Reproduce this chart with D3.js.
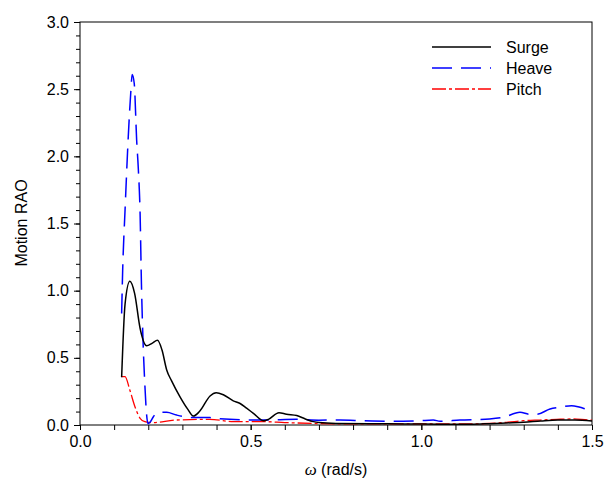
<!DOCTYPE html>
<html>
<head>
<meta charset="utf-8">
<script src="https://cdn.jsdelivr.net/npm/d3@7"></script>
<style>
  body { margin: 0; background: #fff; }
  svg { font-family: Arial, "Liberation Sans", sans-serif; }
</style>
</head>
<body>
<div id="chart"></div>
<script>
// values
var surgeW = [0.122, 0.132, 0.146, 0.160, 0.176, 0.195, 0.212, 0.227, 0.240, 0.254, 0.268, 0.293, 0.315, 0.332, 0.350, 0.381, 0.399, 0.420, 0.449, 0.469, 0.488, 0.508, 0.537, 0.552, 0.583, 0.605, 0.635, 0.660, 0.684, 0.700, 0.750, 0.850, 0.950, 1.050, 1.150, 1.200, 1.250, 1.300, 1.350, 1.400, 1.450, 1.500];
var surgeV = [0.355, 0.90, 1.07, 0.98, 0.72, 0.59, 0.61, 0.63, 0.56, 0.41, 0.33, 0.21, 0.12, 0.067, 0.10, 0.216, 0.24, 0.225, 0.18, 0.16, 0.125, 0.087, 0.032, 0.042, 0.092, 0.08, 0.07, 0.045, 0.025, 0.018, 0.012, 0.010, 0.008, 0.006, 0.006, 0.010, 0.015, 0.020, 0.030, 0.037, 0.037, 0.030];

var heaveW = [0.122, 0.125, 0.132, 0.1415, 0.1486, 0.153, 0.159, 0.166, 0.171, 0.176, 0.180, 0.185, 0.190, 0.195, 0.199, 0.205, 0.215, 0.234, 0.254, 0.283, 0.332, 0.381, 0.40, 0.537, 0.635, 0.70, 0.762, 0.83, 0.918, 0.996, 1.035, 1.055, 1.113, 1.20, 1.24, 1.289, 1.318, 1.338, 1.377, 1.406, 1.44, 1.465, 1.485, 1.50];
var heaveV = [0.83, 1.15, 1.60, 2.15, 2.47, 2.61, 2.54, 2.12, 1.90, 1.58, 1.05, 0.60, 0.30, 0.08, 0.01, 0.02, 0.062, 0.094, 0.094, 0.074, 0.055, 0.055, 0.047, 0.037, 0.042, 0.036, 0.037, 0.032, 0.027, 0.032, 0.037, 0.028, 0.037, 0.045, 0.057, 0.094, 0.08, 0.08, 0.119, 0.132, 0.144, 0.132, 0.119, 0.129];

var pitchW = [0.122, 0.132, 0.146, 0.161, 0.176, 0.190, 0.210, 0.283, 0.380, 0.450, 0.537, 0.600, 0.680, 0.800, 1.000, 1.150, 1.200, 1.250, 1.300, 1.348, 1.397, 1.445, 1.494, 1.50];
var pitchV = [0.36, 0.36, 0.26, 0.136, 0.05, 0.025, 0.017, 0.037, 0.042, 0.025, 0.025, 0.018, 0.012, 0.008, 0.008, 0.008, 0.012, 0.02, 0.032, 0.037, 0.042, 0.045, 0.037, 0.037];

var xTicks = [0.0, 0.5, 1.0, 1.5];
var yTicks = [0.0, 0.5, 1.0, 1.5, 2.0, 2.5, 3.0];
var seriesNames = ["Surge", "Heave", "Pitch"];

var svg_Width = 608;
var svg_Height = 486;
var margin = { top: 22, right: 16, bottom: 61, left: 80 };
var chart_Width = svg_Width - margin.left - margin.right;
var chart_Height = svg_Height - margin.top - margin.bottom;
var fontSize = 16;

var svg = d3.select('#chart')
  .append('svg')
  .attr('width', svg_Width)
  .attr('height', svg_Height);

var chartGroup = svg.append('g')
  .attr('transform', 'translate(' + margin.left + ',' + margin.top + ')');

var xScale = d3.scaleLinear().domain([0, 1.5]).range([0, chart_Width]);
var yScale = d3.scaleLinear().domain([0, 3]).range([chart_Height, 0]);

// minor ticks every 0.1
var xMinor = d3.range(0, 1.501, 0.1);
var yMinor = d3.range(0, 3.001, 0.1);

chartGroup.append('g')
  .attr('transform', 'translate(0,' + chart_Height + ')')
  .call(d3.axisBottom(xScale).tickValues(xMinor).tickSize(5).tickFormat(''))
  .call(function(g) { g.select('.domain').remove(); });

chartGroup.append('g')
  .call(d3.axisLeft(yScale).tickValues(yMinor).tickSize(4).tickFormat(''))
  .call(function(g) { g.select('.domain').remove(); });

var bottomAxis = d3.axisBottom(xScale).tickValues(xTicks).tickSize(5).tickPadding(6)
  .tickFormat(d3.format('.1f'));
var leftAxis = d3.axisLeft(yScale).tickValues(yTicks).tickSize(6).tickPadding(5)
  .tickFormat(d3.format('.1f'));

chartGroup.append('g')
  .attr('transform', 'translate(0,' + chart_Height + ')')
  .call(bottomAxis)
  .call(function(g) {
    g.select('.domain').remove();
    g.selectAll('text').attr('font-size', fontSize).attr('fill', '#000').attr('font-family', 'Arial, "Liberation Sans", sans-serif');
  });

chartGroup.append('g')
  .call(leftAxis)
  .call(function(g) {
    g.select('.domain').remove();
    g.selectAll('text').attr('font-size', fontSize).attr('fill', '#000').attr('font-family', 'Arial, "Liberation Sans", sans-serif');
  });

// frame
chartGroup.append('rect')
  .attr('x', 0).attr('y', 0)
  .attr('width', chart_Width).attr('height', chart_Height)
  .attr('fill', 'none').attr('stroke', '#000').attr('stroke-width', 1);

var line = d3.line()
  .x(function(d) { return xScale(d[0]); })
  .y(function(d) { return yScale(d[1]); })
  .curve(d3.curveMonotoneX);

function pairs(w, v) { return w.map(function(x, i) { return [x, v[i]]; }); }

var styles = {
  Surge: { color: '#000000', dash: null, width: 1.5 },
  Heave: { color: '#0000ff', dash: '20,9', width: 1.5 },
  Pitch: { color: '#ff0000', dash: '14,3,3,3', width: 1.3 }
};
var seriesData = {
  Surge: pairs(surgeW, surgeV),
  Heave: pairs(heaveW, heaveV),
  Pitch: pairs(pitchW, pitchV)
};

var plot = chartGroup.append('g');
['Pitch', 'Heave', 'Surge'].forEach(function(name) {
  plot.append('path')
    .datum(seriesData[name])
    .attr('d', line)
    .attr('fill', 'none')
    .attr('stroke', styles[name].color)
    .attr('stroke-width', styles[name].width)
    .attr('stroke-dasharray', styles[name].dash);
});

// legend
var legend = svg.append('g').attr('transform', 'translate(432,47)');
seriesNames.forEach(function(name, i) {
  var row = legend.append('g').attr('transform', 'translate(0,' + (i * 21) + ')');
  row.append('line')
    .attr('x1', 0).attr('x2', 59).attr('y1', 0).attr('y2', 0)
    .attr('stroke', styles[name].color)
    .attr('stroke-width', styles[name].width)
    .attr('stroke-dasharray', styles[name].dash);
  row.append('text')
    .attr('x', 74).attr('y', 6)
    .attr('font-size', fontSize)
    .text(name);
});

// axis titles
var xt = svg.append('text')
  .attr('x', margin.left + chart_Width / 2)
  .attr('y', 475)
  .attr('text-anchor', 'middle')
  .attr('font-size', fontSize);
xt.append('tspan').attr('font-family', '"Liberation Serif", "DejaVu Serif", serif').attr('font-style', 'italic').attr('font-size', 17).text('ω');
xt.append('tspan').text('  (rad/s)');

svg.append('text')
  .attr('transform', 'rotate(-90)')
  .attr('x', -223)
  .attr('y', 27)
  .attr('text-anchor', 'middle')
  .attr('font-size', fontSize)
  .text('Motion RAO');
</script>
</body>
</html>
